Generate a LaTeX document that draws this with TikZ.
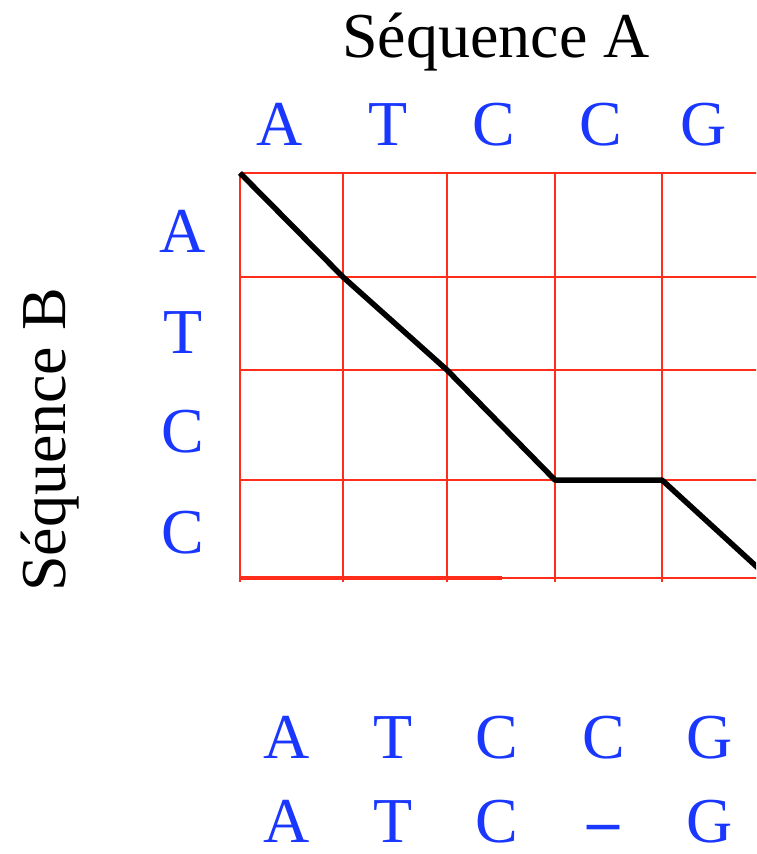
\documentclass[tikz,border=0pt]{standalone}
\usepackage{fontspec}
\setmainfont{Liberation Serif}
\definecolor{seqblue}{RGB}{25,55,255}
\definecolor{gridred}{RGB}{255,45,25}

\begin{document}
\begin{tikzpicture}[x=1pt,y=-1pt,
  lettre/.style={anchor=base,text=seqblue,inner sep=0pt,font=\fontsize{64}{64}\selectfont},
  titre/.style={anchor=base,inner sep=0pt,font=\fontsize{64}{64}\selectfont},
  grille/.style={gridred,line width=1.3pt},
  chemin/.style={black,line width=5.5pt,line join=round}]

\useasboundingbox (0,0) rectangle (756,854);
\clip (0,0) rectangle (756,854);

% grid
\foreach \x in {240,343,447,555,662,769}
  \draw[grille] (\x,173) -- (\x,582);
\foreach \y in {173,277,370,480,578}
  \draw[grille] (240,\y) -- (769,\y);
\draw[gridred,line width=4pt] (240,578) -- (502,578);

% path
\coordinate (P0) at (240,173);
\coordinate (P1) at (343,277);
\coordinate (P2) at (447,370);
\coordinate (P3) at (555,480);
\coordinate (P4) at (662,480);
\coordinate (P5) at (769,578);
\draw[chemin] (P0) -- (P1) -- (P2) -- (P3) -- (P4) -- (P5);

% titles
\node[titre] (seqA) at (496,57) {Séquence A};
\node[titre,rotate=90] (seqB) at (65,440) {Séquence B};

% sequence A
\node[lettre] (a1) at (280,145) {A};
\node[lettre] (a2) at (388,145) {T};
\node[lettre] (a3) at (494,145) {C};
\node[lettre] (a4) at (601,145) {C};
\node[lettre] (a5) at (704,145) {G};

% sequence B
\node[lettre] (b1) at (183,252) {A};
\node[lettre] (b2) at (183,353) {T};
\node[lettre] (b3) at (183,452) {C};
\node[lettre] (b4) at (183,553) {C};

% alignment
\node[lettre] (h1) at (287,758) {A};
\node[lettre] (h2) at (393,758) {T};
\node[lettre] (h3) at (497,758) {C};
\node[lettre] (h4) at (604,758) {C};
\node[lettre] (h5) at (710,758) {G};

\node[lettre] (g1) at (287,842) {A};
\node[lettre] (g2) at (393,842) {T};
\node[lettre] (g3) at (497,842) {C};
\node[lettre] (g4) at (604,842) {\textbf{–}};
\node[lettre] (g5) at (710,842) {G};

\end{tikzpicture}
\end{document}
